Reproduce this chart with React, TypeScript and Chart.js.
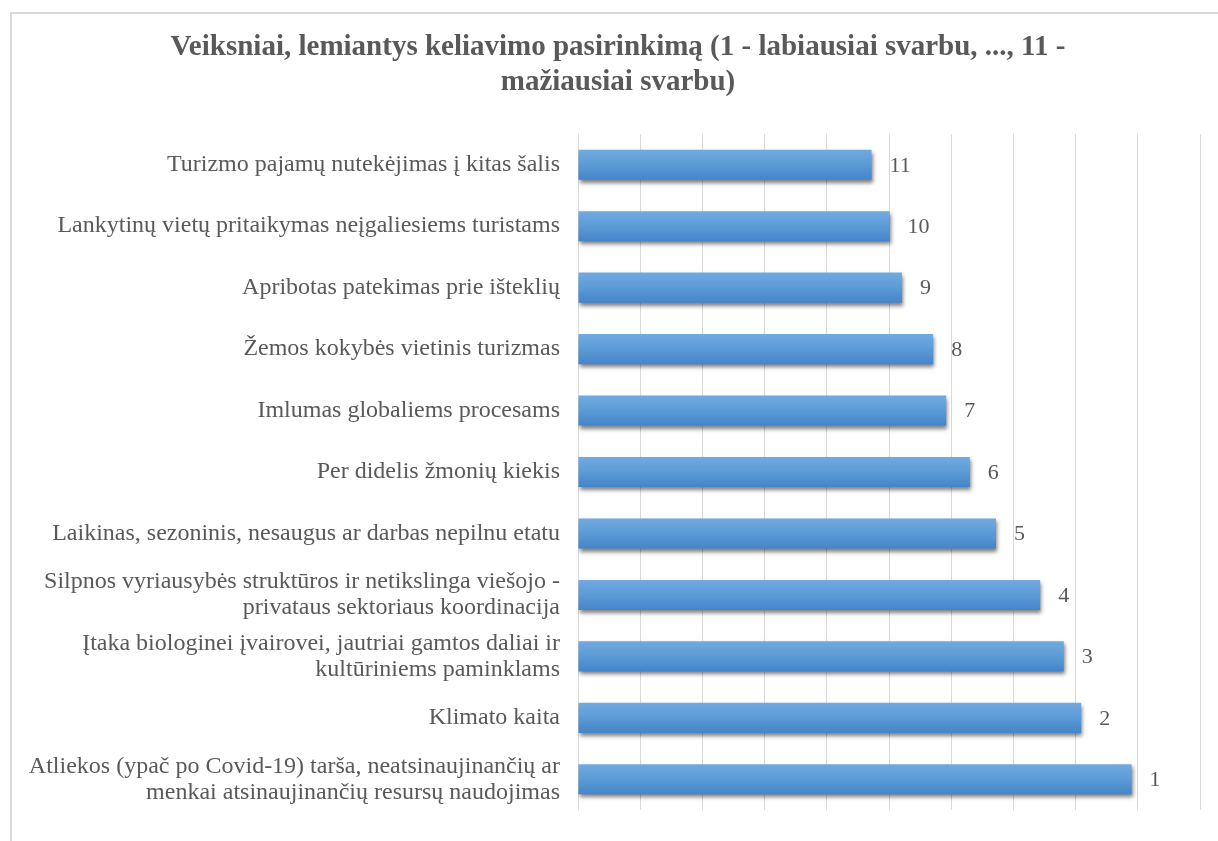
import React, { useEffect, useRef } from "react";
import { Chart, registerables } from "chart.js";

Chart.register(...registerables);

const titleLines = [
  "Veiksniai, lemiantys keliavimo pasirinkimą (1 - labiausiai svarbu, ..., 11 -",
  "mažiausiai svarbu)",
];

const categories: (string | string[])[] = [
  "Turizmo pajamų nutekėjimas į kitas šalis",
  "Lankytinų vietų pritaikymas neįgaliesiems turistams",
  "Apribotas patekimas prie išteklių",
  "Žemos kokybės vietinis turizmas",
  "Imlumas globaliems procesams",
  "Per didelis žmonių kiekis",
  "Laikinas, sezoninis, nesaugus ar darbas nepilnu etatu",
  ["Silpnos vyriausybės struktūros ir netikslinga viešojo -", "privataus sektoriaus koordinacija"],
  ["Įtaka biologinei įvairovei, jautriai gamtos daliai ir", "kultūriniems paminklams"],
  "Klimato kaita",
  ["Atliekos (ypač po Covid-19) tarša, neatsinaujinančių ar", "menkai atsinaujinančių resursų naudojimas"],
];

const values = [4.72, 5.01, 5.21, 5.71, 5.92, 6.3, 6.72, 7.43, 7.81, 8.09, 8.9];

const rankLabels = ["11", "10", "9", "8", "7", "6", "5", "4", "3", "2", "1"];

const axisMin = 0;
const axisMax = 10;
const axisStep = 1;

const SERIF = "'Liberation Serif', 'Times New Roman', serif";
const TEXT = "#595959";

export default function App() {
  const ref = useRef<HTMLCanvasElement | null>(null);

  useEffect(() => {
    const canvas = ref.current;
    if (!canvas) return;

    const framePlugin = {
      id: "frame",
      beforeDraw(chart: any) {
        const ctx = chart.ctx;
        ctx.save();
        ctx.fillStyle = "#ffffff";
        ctx.fillRect(0, 0, chart.width, chart.height);
        ctx.strokeStyle = "#d9d9d9";
        ctx.lineWidth = 2;
        ctx.beginPath();
        ctx.moveTo(11, chart.height + 5);
        ctx.lineTo(11, 13);
        ctx.lineTo(chart.width + 5, 13);
        ctx.stroke();
        // title
        ctx.fillStyle = TEXT;
        ctx.font = `bold 29px ${SERIF}`;
        ctx.textAlign = "center";
        ctx.textBaseline = "middle";
        ctx.fillText(titleLines[0], 618, 48);
        ctx.fillText(titleLines[1], 618, 83);
        ctx.restore();
      },
      beforeDatasetsDraw(chart: any) {
        const ctx = chart.ctx;
        ctx.save();
        ctx.shadowColor = "rgba(0,0,0,0.5)";
        ctx.shadowBlur = 4;
        ctx.shadowOffsetX = 1;
        ctx.shadowOffsetY = 3;
      },
      afterDatasetsDraw(chart: any) {
        const ctx = chart.ctx;
        ctx.restore();
        ctx.save();
        ctx.fillStyle = TEXT;
        ctx.font = `22px ${SERIF}`;
        ctx.textAlign = "left";
        ctx.textBaseline = "middle";
        const meta = chart.getDatasetMeta(0);
        meta.data.forEach((bar: any, i: number) => {
          ctx.fillText(rankLabels[i], bar.x + 18, bar.y + 1);
        });
        ctx.restore();
      },
    };

    const chart = new Chart(canvas, {
      type: "bar",
      data: {
        labels: categories,
        datasets: [
          {
            data: values,
            backgroundColor: (c: any) => {
              const el = c.element;
              if (!el || el.y == null || isNaN(el.y)) return "#5b9bd5";
              const h = el.height || 30;
              const g = c.chart.ctx.createLinearGradient(0, el.y - h / 2, 0, el.y + h / 2);
              g.addColorStop(0, "#72aae1");
              g.addColorStop(0.5, "#5b9bd5");
              g.addColorStop(1, "#4484ca");
              return g;
            },
            borderWidth: 0,
            barPercentage: 1,
            categoryPercentage: 0.49,
          },
        ],
      },
      options: {
        indexAxis: "y",
        animation: false,
        responsive: false,
        maintainAspectRatio: false,
        layout: { padding: { left: 0, right: 18, top: 134, bottom: 21 } },
        plugins: {
          legend: { display: false },
          title: { display: false },
          tooltip: { enabled: false },
        },
        scales: {
          x: {
            min: axisMin,
            max: axisMax,
            ticks: { display: false, stepSize: axisStep },
            grid: { color: "#d9d9d9", lineWidth: 1, drawTicks: false },
            border: { display: false },
            afterFit: (s: any) => {
              s.height = 0;
            },
          },
          y: {
            ticks: {
              color: TEXT,
              font: { family: SERIF, size: 24, lineHeight: 1.08 },
              padding: 18,
              autoSkip: false,
            },
            grid: { display: false, drawTicks: false },
            border: { display: false },
            afterFit: (s: any) => {
              s.width = 578;
            },
          },
        },
      },
      plugins: [framePlugin],
    } as any);
    chart.update();

    return () => chart.destroy();
  }, []);

  return (
    <div style={{ position: "absolute", left: 0, top: 0, width: 1218, height: 841 }}>
      <canvas ref={ref} width={1218} height={841} style={{ width: 1218, height: 841, display: "block" }} />
    </div>
  );
}
